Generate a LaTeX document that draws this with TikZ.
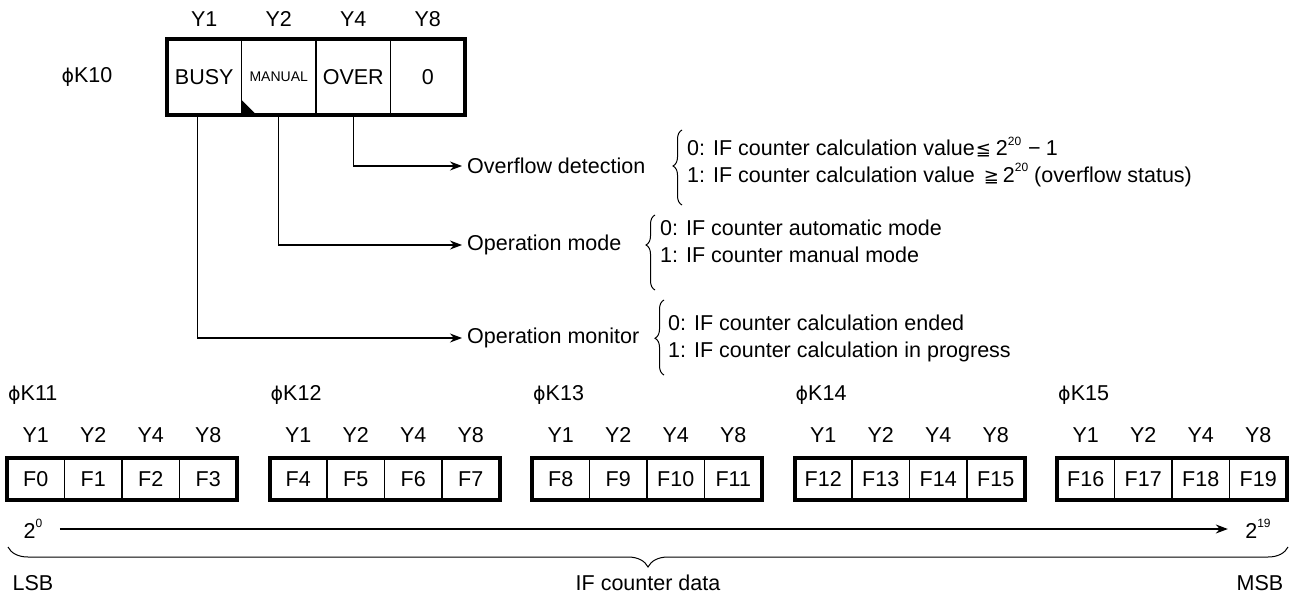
\documentclass[tikz,border=0pt]{standalone}
\usepackage{fontspec}
\setmainfont{Liberation Sans}
\newfontfamily\symf{DejaVu Sans}
\usetikzlibrary{arrows.meta,decorations.pathreplacing,positioning}
\newcommand\pw[1]{\raisebox{0.5em}{\fontsize{12}{12}\selectfont #1}}
\newcommand\ph{{\symf\fontsize{19}{19}\selectfont ϕ}}
\newcommand\rel[1]{{\symf\fontsize{18}{18}\selectfont #1}}

\begin{document}
\begin{tikzpicture}[x=1pt,y=-1pt,font=\fontsize{21.5}{25}\selectfont,
    bit/.style={draw,line width=1.8pt,minimum width=74.5pt,minimum height=76pt,inner sep=0pt,outer sep=0pt},
    fbit/.style={draw,line width=1.6pt,minimum width=57.5pt,minimum height=42pt,inner sep=0pt,outer sep=0pt},
    conn/.style={line width=1.2pt,-{Stealth[length=12pt,width=9pt]}},
    lbl/.style={anchor=west,inner sep=5pt},
    txt/.style={anchor=west,inner sep=0pt},
    grp/.style={decorate,line width=1pt}]
    \useasboundingbox (0,0) rectangle (1289,599);
    \node[bit] (busy) at (204.25,77) {BUSY};
    \node[bit,right=0pt of busy] (manual) {\fontsize{14}{14}\selectfont MANUAL};
    \node[bit,right=0pt of manual] (over) {OVER};
    \node[bit,right=0pt of over] (zero) {0};
    \fill (manual.south west) -- ++(0,-15) -- ++(15,15) -- cycle;
    \draw[line width=4.5pt] (busy.north west) rectangle (zero.south east);
    \foreach \c/\t in {busy/Y1,manual/Y2,over/Y4,zero/Y8}
        \node (top\c) at (\c |- 0,19) {\t};
    \node (k10) at (87,77) {\ph K10};

    \node[lbl] (ovf) at (462,166) {Overflow detection};
    \node[lbl] (mode) at (462,245) {Operation mode};
    \node[lbl] (mon) at (462,338) {Operation monitor};
    \draw[conn] (over.south) |- (ovf.west);
    \draw[conn] (manual.south) |- (mode.west);
    \draw[conn] ([xshift=-7pt]busy.south) |- (mon.west);

    \draw[grp,decoration={brace,amplitude=9pt,aspect=0.52}] (682,205) -- (682,130);
    \draw[grp,decoration={brace,amplitude=9pt,aspect=0.6}] (655,290) -- (655,215);
    \draw[grp,decoration={brace,amplitude=9pt,aspect=0.49}] (664,375) -- (664,300);
    \node[txt] (ovf0) at (687,147) {0: IF counter calculation value\hspace{1pt}\rel{≦}\hspace{5pt}2\pw{20}\hspace{7pt}−\hspace{5pt}1};
    \node[txt] (ovf1) at (687,175) {1: IF counter calculation value\hspace{9pt}\rel{≧}\hspace{4pt}2\pw{20}\hspace{6pt}(overflow status)};
    \node[txt] (mode0) at (660,228) {0: IF counter automatic mode};
    \node[txt] (mode1) at (660,255) {1: IF counter manual mode};
    \node[txt] (mon0) at (668,323) {0: IF counter calculation ended};
    \node[txt] (mon1) at (668,352) {1: IF counter calculation in progress};

    \foreach \r in {0,...,4} {
        \pgfmathsetmacro\bx{7+262.5*\r}
        \pgfmathtruncatemacro\kk{11+\r}
        \pgfmathtruncatemacro\fa{4*\r}
        \pgfmathtruncatemacro\fb{4*\r+3}
        \node[txt] (k\kk) at (\bx+1,395) {\ph K\kk};
        \foreach \b in {0,...,3} {
            \pgfmathtruncatemacro\f{4*\r+\b}
            \pgfmathtruncatemacro\yy{2^\b}
            \node[fbit] (f\f) at ({\bx+28.75+57.5*\b},479) {F\f};
            \node (yb\f) at (f\f |- 0,435) {Y\yy};
        }
        \draw[line width=4pt] (f\fa.north west) rectangle (f\fb.south east);
    }

    \node (p0) at (33,529) {2\pw{0}};
    \node (p19) at (1258,529) {2\pw{19}};
    \draw[conn,shorten <=14pt,shorten >=14pt] (p0.east) -- (p19.west);
    \draw[grp,decoration={brace,amplitude=20pt}] (1288,547) -- (8,547);
    \node (lsb) at (33,583) {LSB};
    \node (ifdata) at (648,583) {IF counter data};
    \node (msb) at (1260,583) {MSB};
\end{tikzpicture}
\end{document}
